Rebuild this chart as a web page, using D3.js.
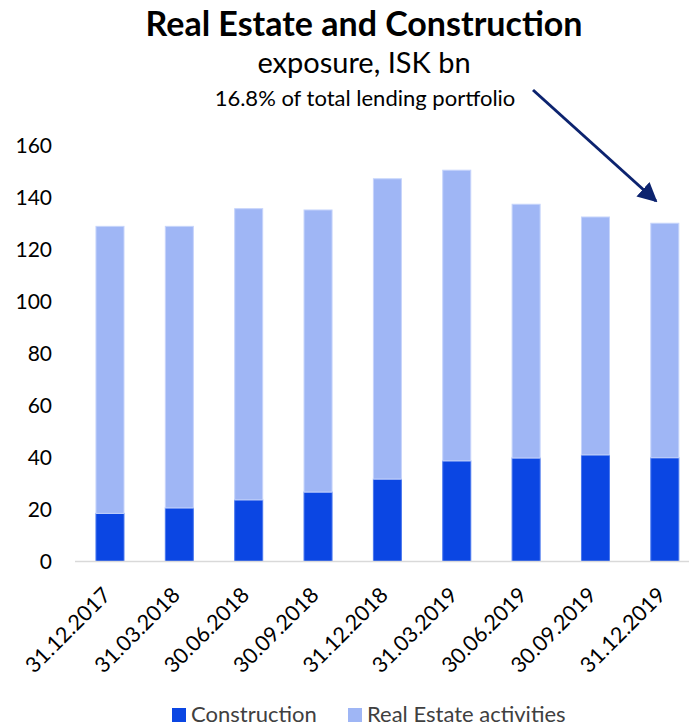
<!DOCTYPE html>
<html>
<head>
<meta charset="utf-8">
<script src="https://cdn.jsdelivr.net/npm/d3@7"></script>
<style>
  html, body { margin: 0; padding: 0; background: #fff; }
  svg { display: block; }
  text { font-family: Lato, "Open Sans", sans-serif; }
</style>
</head>
<body>
<svg id="chart" width="689" height="726"></svg>
<script>
// Quarter-end reporting dates
const dates = ["31.12.2017", "31.03.2018", "30.06.2018", "30.09.2018", "31.12.2018",
               "31.03.2019", "30.06.2019", "30.09.2019", "31.12.2019"];
// Exposure, ISK bn
const construction = [18.5, 20.6, 23.7, 26.7, 31.7, 38.7, 39.8, 41.0, 39.9];
const realEstate   = [110.4, 108.3, 112.0, 108.5, 115.5, 111.8, 97.6, 91.5, 90.2];
const seriesNames = ["Construction", "Real Estate activities"];
const yTicks = [0, 20, 40, 60, 80, 100, 120, 140, 160];

const colors = { fill: ["#0b46e3", "#9fb6f5"], edge: ["#4a78ee", "#c6d4fb"] };

const svg = d3.select("#chart");

const x = d3.scaleBand().domain(dates).range([75.3, 699.5]).paddingInner(0.596).paddingOuter(0.298);
const y = d3.scaleLinear().domain([0, 160]).range([561.5, 145.5]);

// Titles
svg.append("text").attr("x", 364).attr("y", 36).attr("text-anchor", "middle")
  .attr("font-size", 34).attr("font-weight", 700).attr("fill", "#000")
  .text("Real Estate and Construction");
svg.append("text").attr("x", 364).attr("y", 73).attr("text-anchor", "middle")
  .attr("font-size", 29).attr("fill", "#000").text("exposure, ISK bn");
svg.append("text").attr("x", 365).attr("y", 106).attr("text-anchor", "middle")
  .attr("font-size", 22).attr("fill", "#000").text("16.8% of total lending portfolio");

// Y axis labels only (no tick marks, no gridlines)
const yAxis = d3.axisLeft(y).tickValues(yTicks).tickSize(0).tickPadding(0);
const gy = svg.append("g").attr("transform", "translate(52,0)").call(yAxis);
gy.select(".domain").remove();
gy.selectAll("text").attr("font-size", 21).attr("fill", "#000")
  .attr("font-family", "Lato, sans-serif").attr("dy", "0.35em");

// Stacked bars
const stackData = dates.map((d, i) => ({ date: d, c: construction[i], r: realEstate[i] }));
const stacked = d3.stack().keys(["c", "r"])(stackData);

svg.append("g").selectAll("g").data(stacked).join("g")
  .attr("fill", (s, i) => colors.fill[i])
  .attr("stroke", (s, i) => colors.edge[i])
  .attr("stroke-width", 1)
  .selectAll("rect").data(s => s).join("rect")
  .attr("x", d => x(d.data.date))
  .attr("width", x.bandwidth())
  .attr("y", d => y(d[1]))
  .attr("height", d => y(d[0]) - y(d[1]));

// Baseline
svg.append("line").attr("x1", 75).attr("x2", 689).attr("y1", y(0)).attr("y2", y(0))
  .attr("stroke", "#d9d9d9").attr("stroke-width", 1.5);

// Rotated category labels
const xAxis = d3.axisBottom(x).tickSize(0).tickPadding(0);
const gx = svg.append("g").attr("transform", `translate(0,${y(0)})`).call(xAxis);
gx.select(".domain").remove();
gx.selectAll("text")
  .attr("font-size", 21.5).attr("fill", "#000").attr("font-family", "Lato, sans-serif")
  .attr("text-anchor", "end").attr("dy", null).attr("y", 0)
  .attr("transform", "translate(2,35) rotate(-45)");

// Arrow annotation
svg.append("defs").append("marker")
  .attr("id", "head").attr("viewBox", "0 0 10 10").attr("refX", 9).attr("refY", 5)
  .attr("markerWidth", 6.5).attr("markerHeight", 6.5).attr("markerUnits", "strokeWidth")
  .attr("orient", "auto")
  .append("path").attr("d", "M0,0 L10,5 L0,10 Z").attr("fill", "#0c236f");
svg.append("line").attr("x1", 533).attr("y1", 90).attr("x2", 656).attr("y2", 201)
  .attr("stroke", "#0c236f").attr("stroke-width", 3).attr("marker-end", "url(#head)");

// Legend
const legend = svg.append("g");
const legendX = [172, 348];
seriesNames.forEach((name, i) => {
  legend.append("rect").attr("x", legendX[i]).attr("y", 708).attr("width", 14).attr("height", 14)
    .attr("fill", colors.fill[i]);
  legend.append("text").attr("x", legendX[i] + 19).attr("y", 722)
    .attr("font-size", 22).attr("fill", "#404040").text(name);
});
</script>
</body>
</html>
